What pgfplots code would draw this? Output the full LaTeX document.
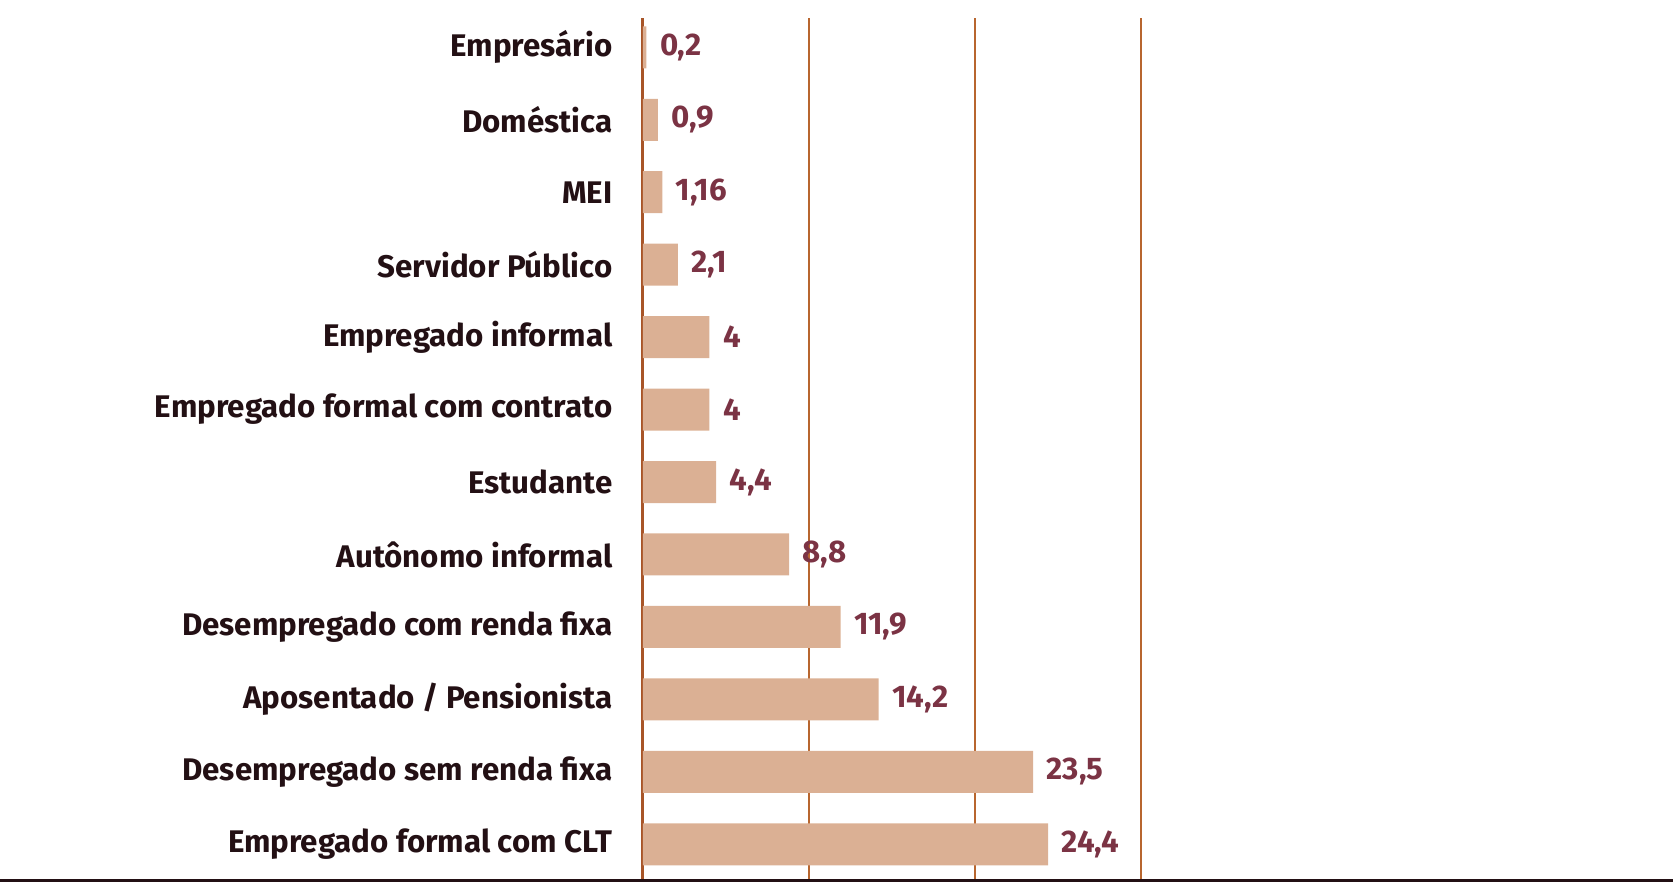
\documentclass[border=0pt]{standalone}
\usepackage{fontspec}
\setmainfont{Fira Sans}
\usepackage{pgfplots}
\pgfplotsset{compat=1.18}
\definecolor{barc}{HTML}{DBB094}
\definecolor{gridc}{HTML}{B8662F}
\definecolor{zeroc}{HTML}{A85528}
\definecolor{valc}{HTML}{7B3344}
\definecolor{labc}{HTML}{231014}
\begin{document}
\begin{tikzpicture}
\path[use as bounding box] (0,0) rectangle (167.3mm,88.2mm);
\begin{axis}[
  at={(64.3mm,0.15mm)}, anchor=south west,
  x=1.66mm, y=7.245mm,
  xmin=0, xmax=62.0, ymin=-0.5, ymax=11.4,
  xbar, bar width=4.2mm,
  axis line style={draw=none},
  xtick={10,20,30}, xticklabels={},
  xmajorgrids, grid style={gridc, line width=0.15mm},
  extra x ticks={0}, extra x tick labels={},
  extra x tick style={grid style={zeroc, line width=0.3mm}},
  major tick length=0, tick style={draw=none},
  ytick={0,...,11},
  yticklabels={Empregado formal com CLT, Desempregado sem renda fixa, Aposentado / Pensionista, Desempregado com renda fixa, Autônomo informal, Estudante, Empregado formal com contrato, Empregado informal, Servidor Público, MEI, Doméstica, Empresário},
  yticklabel style={font=\bfseries\fontsize{8.9}{10}\selectfont, text=labc, anchor=east, inner sep=0pt, xshift=-3mm},
  nodes near coords, point meta=explicit symbolic,
  nodes near coords style={font=\bfseries\fontsize{8.9}{10}\selectfont, text=valc, anchor=west, inner sep=0pt, xshift=1.3mm},
  clip=false,
]
\addplot[fill=barc, draw=none] table[x=v, y=i, meta=l] {
i v l
0 24.4 24,4
1 23.5 23,5
2 14.2 14,2
3 11.9 11,9
4 8.8 8,8
5 4.4 4,4
6 4 4
7 4 4
8 2.1 2,1
9 1.16 1,16
10 0.9 0,9
11 0.2 0,2
};
\end{axis}
\draw[line width=0.3mm, labc] (0,0.15mm) -- (167.3mm,0.15mm);
\end{tikzpicture}
\end{document}
